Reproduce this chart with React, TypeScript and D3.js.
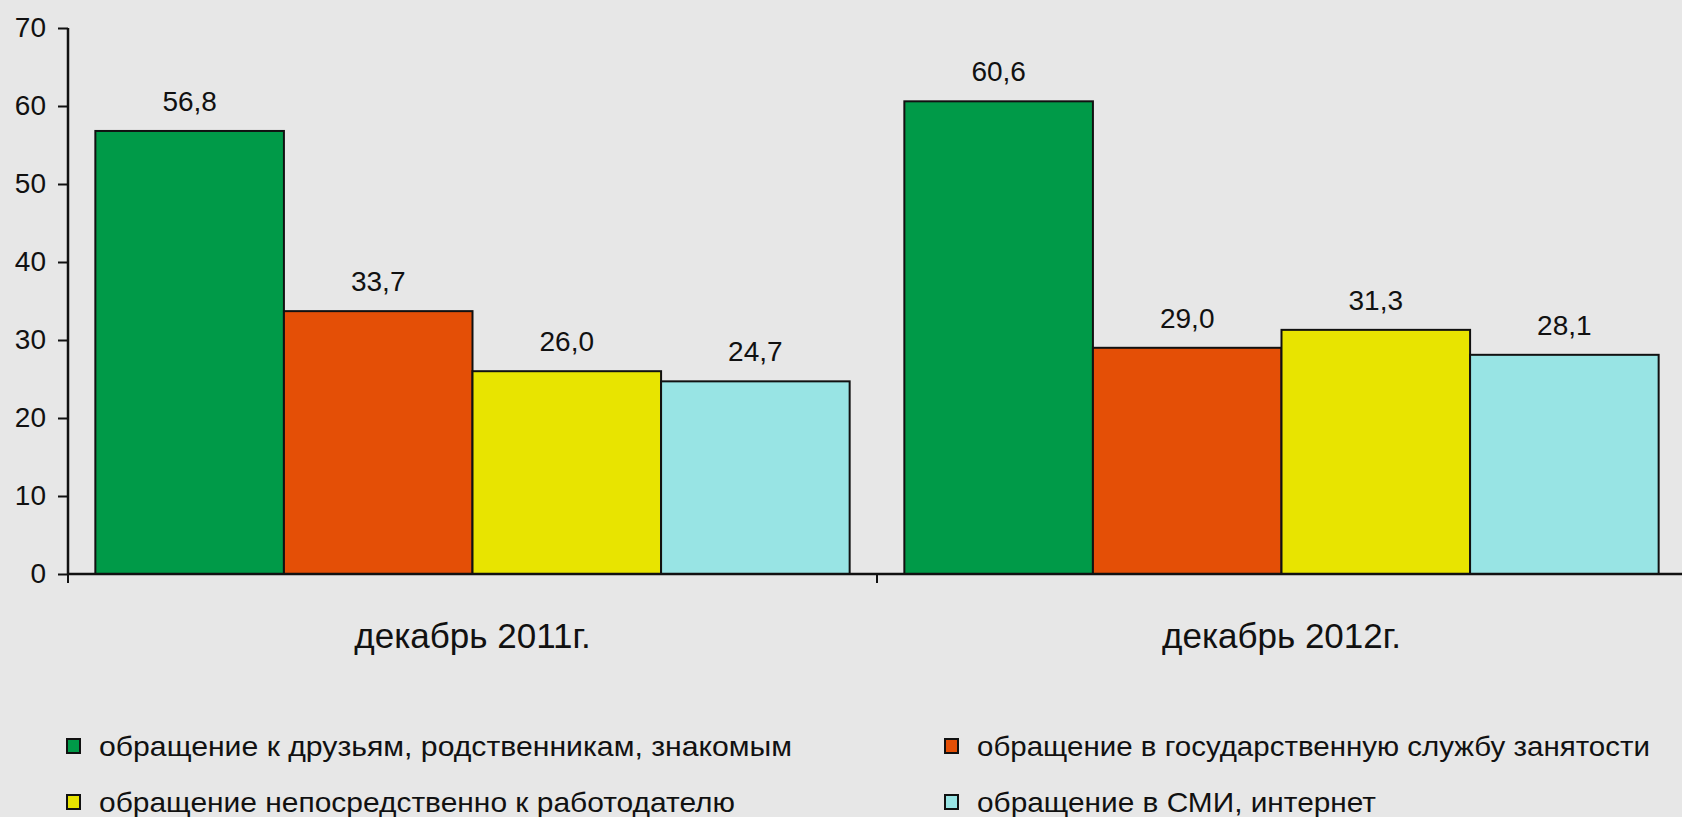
import * as d3 from "d3";
import { useEffect, useRef } from "react";

// data
const groups = ["декабрь 2011г.", "декабрь 2012г."];
const seriesNames = [
  "обращение к друзьям, родственникам, знакомым",
  "обращение в государственную службу занятости",
  "обращение непосредственно к работодателю",
  "обращение в СМИ, интернет",
];
const friends = [56.8, 60.6];
const employmentService = [33.7, 29.0];
const employer = [26.0, 31.3];
const media = [24.7, 28.1];
const yTicks = [0, 10, 20, 30, 40, 50, 60, 70];

const colors = ["#009a48", "#e44f06", "#e8e400", "#98e4e4"];
const W = 1682;
const H = 817;
const FONT = "'Liberation Sans', Arial, sans-serif";

export default function App() {
  const svgRef = useRef<SVGSVGElement>(null);

  useEffect(() => {
    const svg = d3.select(svgRef.current);
    svg.selectAll("*").remove();

    const values = [friends, employmentService, employer, media];
    const rows = groups.map((g, gi) => ({
      group: g,
      vals: seriesNames.map((s, si) => ({ key: s, idx: si, value: values[si][gi] })),
    }));

    const left = 68;
    const groupW = 809;
    const x0 = d3.scaleBand<string>().domain(groups).range([left, left + groupW * 2]).padding(0);
    const x1 = d3
      .scaleBand<string>()
      .domain(seriesNames)
      .range([0, x0.bandwidth()])
      .paddingInner(0)
      .paddingOuter(0.145);
    const y = d3.scaleLinear().domain([0, 70]).range([574, 28]);

    svg.append("rect").attr("width", W).attr("height", H).attr("fill", "#e7e7e7");

    // bars
    const g = svg
      .selectAll("g.grp")
      .data(rows)
      .enter()
      .append("g")
      .attr("class", "grp")
      .attr("transform", (d) => `translate(${x0(d.group)},0)`);

    g.selectAll("rect")
      .data((d) => d.vals)
      .enter()
      .append("rect")
      .attr("x", (d) => x1(d.key)!)
      .attr("y", (d) => y(d.value))
      .attr("width", x1.bandwidth())
      .attr("height", (d) => y(0) - y(d.value))
      .attr("fill", (d) => colors[d.idx])
      .attr("stroke", "#111")
      .attr("stroke-width", 2);

    g.selectAll("text.val")
      .data((d) => d.vals)
      .enter()
      .append("text")
      .attr("class", "val")
      .attr("x", (d) => x1(d.key)! + x1.bandwidth() / 2)
      .attr("y", (d) => y(d.value) - 20)
      .attr("text-anchor", "middle")
      .attr("font-family", FONT)
      .attr("font-size", 28)
      .attr("fill", "#111")
      .text((d) => d3.format(".1f")(d.value).replace(".", ","));

    // y axis
    const gy = svg.append("g").attr("transform", `translate(${left},0)`);
    gy.call(d3.axisLeft(y).tickValues(yTicks).tickSize(10).tickPadding(12).tickFormat(d3.format("d")) as any);
    gy.select(".domain").attr("stroke", "#111").attr("stroke-width", 2.5).attr("d", `M0,${y(70)}V${y(0)}`);
    gy.selectAll(".tick line").attr("stroke", "#111").attr("stroke-width", 2);
    gy.selectAll(".tick text").attr("font-family", FONT).attr("font-size", 28).attr("fill", "#111");

    // x axis with ticks at group borders
    const gx = svg.append("g");
    gx.append("line")
      .attr("x1", left)
      .attr("x2", W)
      .attr("y1", y(0))
      .attr("y2", y(0))
      .attr("stroke", "#111")
      .attr("stroke-width", 2.5);
    const borders = groups.map((d) => x0(d)!).concat([x0(groups[1])! + x0.bandwidth()]);
    gx.selectAll("line.tk")
      .data(borders)
      .enter()
      .append("line")
      .attr("class", "tk")
      .attr("x1", (d) => d)
      .attr("x2", (d) => d)
      .attr("y1", y(0))
      .attr("y2", y(0) + 9)
      .attr("stroke", "#111")
      .attr("stroke-width", 2);
    gx.selectAll("text")
      .data(groups)
      .enter()
      .append("text")
      .attr("x", (d) => x0(d)! + x0.bandwidth() / 2)
      .attr("y", 648)
      .attr("text-anchor", "middle")
      .attr("font-family", FONT)
      .attr("font-size", 35)
      .attr("fill", "#111")
      .text((d) => d);

    // legend, two columns
    const legendX = [66, 944];
    const legendY = [746, 802];
    const textLen = [693, 673, 636, 399];
    const lg = svg
      .selectAll("g.lg")
      .data(seriesNames)
      .enter()
      .append("g")
      .attr("class", "lg")
      .attr("transform", (_, i) => `translate(${legendX[i % 2]},${legendY[Math.floor(i / 2)]})`);
    lg.append("rect")
      .attr("x", 1)
      .attr("y", -7)
      .attr("width", 13)
      .attr("height", 14)
      .attr("fill", (_, i) => colors[i])
      .attr("stroke", "#111")
      .attr("stroke-width", 2);
    lg.append("text")
      .attr("x", 33)
      .attr("y", 0)
      .attr("dominant-baseline", "central")
      .attr("font-family", FONT)
      .attr("font-size", 28)
      .attr("fill", "#111")
      .attr("textLength", (_, i) => textLen[i])
      .attr("lengthAdjust", "spacingAndGlyphs")
      .text((d) => d);
  }, []);

  return (
    <svg
      ref={svgRef}
      width={W}
      height={H}
      style={{ position: "absolute", left: 0, top: 0, display: "block" }}
    />
  );
}
